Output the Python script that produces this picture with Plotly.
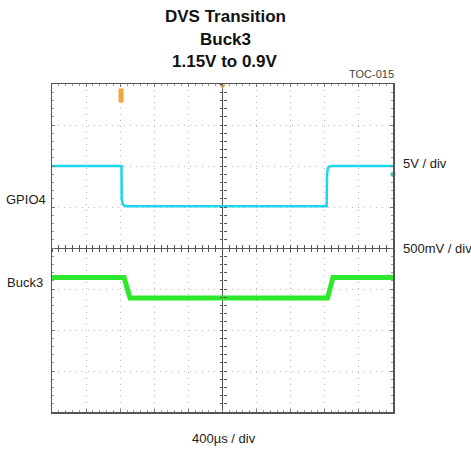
import plotly.graph_objects as go

# ---- data (time in µs relative to screen centre, levels in screen divisions) ----
gpio4_time_us = [-2000, -1185, -1182, -1170, -1150, -1120, 1222, 1226, 1238, 1255, 1280, 2000]
gpio4_level_div = [2.00, 2.00, 1.20, 1.07, 1.03, 1.02, 1.02, 1.80, 1.96, 1.99, 2.00, 2.00]

buck3_time_us = [-2000, -1155, -1085, 1232, 1296, 2000]
buck3_level_div = [-0.72, -0.72, -1.22, -1.22, -0.72, -0.72]

trigger_time_us = [-1190]
trigger_level_div = [3.72]
trigger_pos_time_us = [0]
trigger_pos_level_div = [3.95]
gpio4_marker_time_us = [2000]
gpio4_marker_level_div = [1.80]

title_lines = ["DVS Transition", "Buck3", "1.15V to 0.9V"]
ch_labels = ["GPIO4", "Buck3"]
scale_labels = ["5V / div", "500mV / div"]
time_label = "400µs / div"
toc_label = "TOC-015"

W, H = 471, 450
L, T = 52, 84
R = W - 393
B = H - 412
pw, ph = W - L - R, H - T - B

def px(x):  # page pixel -> paper x
    return (x - L) / pw

def py(y):  # page pixel -> paper y
    return (H - B - y) / ph

CYAN = "#1fd6ef"
GREEN = "#2ee82e"
ORANGE = "#f2a53a"
TXT = "#222222"
FONT = "Liberation Sans, Arial, sans-serif"

fig = go.Figure()

fig.add_trace(go.Scatter(x=gpio4_time_us, y=gpio4_level_div, mode="lines",
                         line=dict(color=CYAN, width=2.5), showlegend=False, hoverinfo="skip"))
fig.add_trace(go.Scatter(x=buck3_time_us, y=buck3_level_div, mode="lines",
                         line=dict(color=GREEN, width=5), showlegend=False, hoverinfo="skip"))
fig.add_trace(go.Scatter(x=trigger_time_us, y=trigger_level_div, mode="markers",
                         marker=dict(symbol="line-ns-open", size=10, color=ORANGE,
                                     line=dict(color=ORANGE, width=5)),
                         showlegend=False, hoverinfo="skip", cliponaxis=False))
fig.add_trace(go.Scatter(x=trigger_pos_time_us, y=trigger_pos_level_div, mode="markers",
                         marker=dict(symbol="triangle-down", size=6, color=ORANGE),
                         showlegend=False, hoverinfo="skip", cliponaxis=False))
fig.add_trace(go.Scatter(x=gpio4_marker_time_us, y=gpio4_marker_level_div, mode="markers",
                         marker=dict(symbol="circle", size=5, color="#3cc7b8"),
                         showlegend=False, hoverinfo="skip", cliponaxis=False))

# dummy traces so the crosshair tick axes are drawn
for xa, ya in [("x2", "y"), ("x3", "y"), ("x", "y2"), ("x", "y3")]:
    fig.add_trace(go.Scatter(x=[None], y=[None], xaxis=xa, yaxis=ya, showlegend=False, hoverinfo="skip"))

grid = dict(showgrid=True, gridcolor="#b8b8b8", gridwidth=1, griddash="1px,5px")
border = dict(showline=True, linecolor="#555555", linewidth=1.5, mirror="ticks",
              ticks="inside", ticklen=3, tickcolor="#777777", showticklabels=False,
              zeroline=True, zerolinecolor="#555555", zerolinewidth=1)

fig.update_layout(
    width=W, height=H,
    margin=dict(l=L, r=R, t=T, b=B),
    paper_bgcolor="white", plot_bgcolor="white",
    xaxis=dict(range=[-2000, 2000], dtick=400, tick0=0, fixedrange=True,
               minor=dict(dtick=80, ticks="inside", ticklen=2, tickcolor="#999999", showgrid=False),
               **grid, **border),
    yaxis=dict(range=[-4, 4], dtick=1, tick0=0, fixedrange=True,
               minor=dict(dtick=0.2, ticks="inside", ticklen=2, tickcolor="#999999", showgrid=False),
               **grid, **border),
    xaxis2=dict(overlaying="x", anchor="free", position=0.5, range=[-2000, 2000],
                dtick=80, tick0=0, ticks="outside", ticklen=3, tickcolor="#555555",
                showgrid=False, zeroline=False, showline=False, showticklabels=False),
    xaxis3=dict(overlaying="x", anchor="free", position=0.5, range=[-2000, 2000],
                dtick=80, tick0=0, ticks="inside", ticklen=3, tickcolor="#555555",
                showgrid=False, zeroline=False, showline=False, showticklabels=False),
    yaxis2=dict(overlaying="y", anchor="free", position=0.5, range=[-4, 4],
                dtick=0.2, tick0=0, ticks="outside", ticklen=3, tickcolor="#555555",
                showgrid=False, zeroline=False, showline=False, showticklabels=False),
    yaxis3=dict(overlaying="y", anchor="free", position=0.5, range=[-4, 4],
                dtick=0.2, tick0=0, ticks="inside", ticklen=3, tickcolor="#555555",
                showgrid=False, zeroline=False, showline=False, showticklabels=False),
)

ann = []
for txt, ypx in zip(title_lines, [16, 39, 62]):
    ann.append(dict(text="<b>" + txt + "</b>", x=px(225), y=py(ypx), xanchor="center", yanchor="middle",
                    font=dict(family=FONT, size=17, color="#111111")))
ann.append(dict(text=toc_label, x=px(396), y=py(74), xanchor="right", yanchor="middle",
                font=dict(family=FONT, size=11, color="#444444")))
ann.append(dict(text=ch_labels[0], x=px(48), y=py(199), xanchor="right", yanchor="middle",
                font=dict(family=FONT, size=13, color=TXT)))
ann.append(dict(text=ch_labels[1], x=px(45), y=py(282), xanchor="right", yanchor="middle",
                font=dict(family=FONT, size=13, color=TXT)))
ann.append(dict(text=scale_labels[0], x=px(401), y=py(163), xanchor="left", yanchor="middle",
                font=dict(family=FONT, size=13, color=TXT)))
ann.append(dict(text=scale_labels[1], x=px(401), y=py(248), xanchor="left", yanchor="middle",
                font=dict(family=FONT, size=13, color=TXT)))
ann.append(dict(text=time_label, x=px(224), y=py(438), xanchor="center", yanchor="middle",
                font=dict(family=FONT, size=13, color=TXT)))
for a in ann:
    a.update(xref="paper", yref="paper", showarrow=False)
fig.update_layout(annotations=ann)

fig.write_html("out.html",
               config={"displayModeBar": False, "staticPlot": True},
               post_script="document.body.style.margin='0';document.body.style.overflow='hidden';")
